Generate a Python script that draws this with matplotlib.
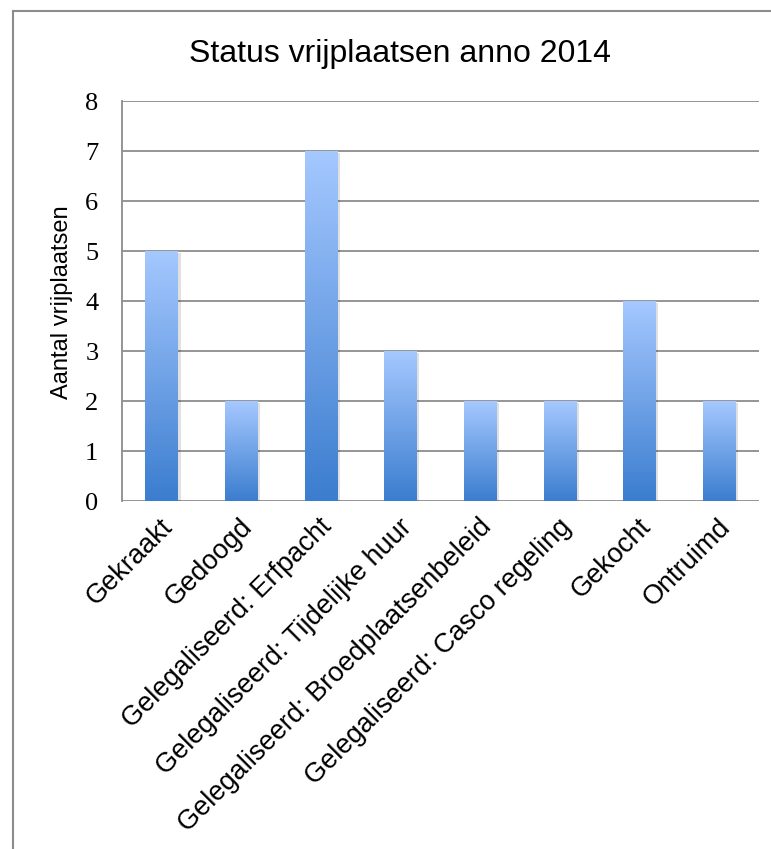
import numpy as np
import matplotlib
matplotlib.use("Agg")
from matplotlib import pyplot as plt
from matplotlib.lines import Line2D
from matplotlib.colors import LinearSegmentedColormap
from matplotlib.patches import Rectangle
from matplotlib.transforms import ScaledTranslation

categories = ["Gekraakt", "Gedoogd", "Gelegaliseerd: Erfpacht",
              "Gelegaliseerd: Tijdelijke huur", "Gelegaliseerd: Broedplaatsenbeleid",
              "Gelegaliseerd: Casco regeling", "Gekocht", "Ontruimd"]
values = [5, 2, 7, 3, 2, 2, 4, 2]
yticks = [0, 1, 2, 3, 4, 5, 6, 7, 8]

W, H = 771, 849
fig = plt.figure(figsize=(W / 100, H / 100), dpi=100)
ax = fig.add_axes([122 / W, 1 - 501 / H, (759 - 122) / W, (501 - 101) / H])

# outer chart frame (left and top edges only visible)
fig.add_artist(Line2D([13 / W, 13 / W], [0, 1 - 11 / H], color="#8c8c8c", lw=1.5,
                      transform=fig.transFigure))
fig.add_artist(Line2D([13 / W, 1], [1 - 11 / H, 1 - 11 / H], color="#8c8c8c", lw=1.5,
                      transform=fig.transFigure))

cmap = LinearSegmentedColormap.from_list("bar", ["#3b7dcf", "#a5c8ff"])
grad = np.linspace(0, 1, 256).reshape(-1, 1)
bw = 0.41
x = np.arange(len(categories))
for xi, v in zip(x, values):
    # soft shadow
    ax.add_patch(Rectangle((xi - bw / 2 + 0.03, -0.04), bw, v, color="#000000",
                           alpha=0.12, lw=0, zorder=2))
    ax.imshow(grad, cmap=cmap, origin="lower", aspect="auto",
              extent=(xi - bw / 2, xi + bw / 2, 0, v), zorder=3)

ax.set_xlim(-0.5, len(categories) - 0.5)
ax.set_ylim(0, 8)
ax.set_yticks(yticks)
ax.set_yticklabels([str(t) for t in yticks], family="Liberation Serif", fontsize=19)
ax.yaxis.grid(True, color="#8c8c8c", lw=1.3)
ax.set_axisbelow(True)
ax.tick_params(axis="y", length=0, pad=17)
ax.tick_params(axis="x", length=0, pad=0)
for s in ["top", "right", "bottom"]:
    ax.spines[s].set_visible(False)
ax.spines["left"].set_color("#8c8c8c")
ax.spines["left"].set_linewidth(1.3)

ax.set_xticks(x)
ax.set_xticklabels(categories, rotation=45, ha="right", va="top", rotation_mode="anchor",
                   family="Liberation Sans", fontsize=19.5)
off = ScaledTranslation(-0.02, -0.13, fig.dpi_scale_trans)
for lbl in ax.get_xticklabels():
    lbl.set_transform(lbl.get_transform() + off)

fig.text(62 / W, 1 - 302 / H, "Aantal vrijplaatsen", rotation=90, ha="center", va="center",
         family="Liberation Sans", fontsize=17)

fig.text(400 / W, 1 - 62 / H, "Status vrijplaatsen anno 2014", ha="center", va="baseline",
         family="Liberation Sans", fontsize=23)

fig.savefig("out.png", dpi=100)
